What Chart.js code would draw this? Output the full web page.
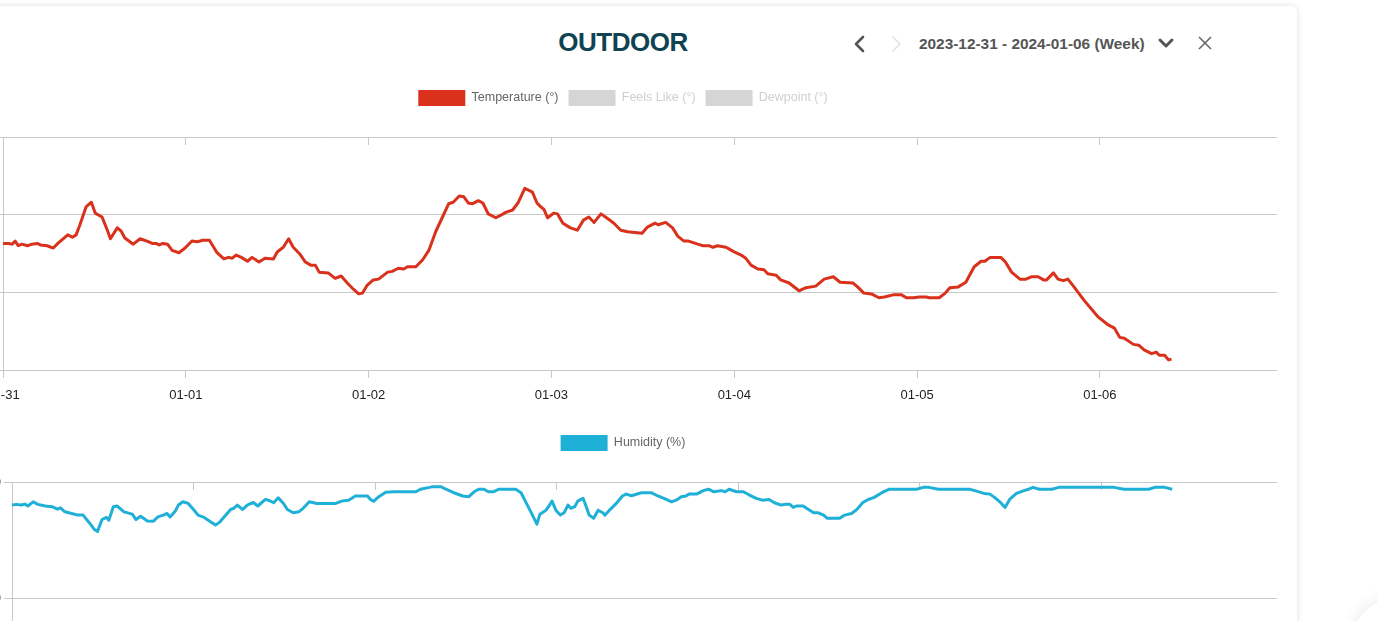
<!DOCTYPE html>
<html>
<head>
<meta charset="utf-8">
<script src="https://cdn.jsdelivr.net/npm/chart.js@4.4.1/dist/chart.umd.min.js"></script>
<style>
  html, body { margin:0; padding:0; width:1377px; height:621px; overflow:hidden; background:#fff;
    font-family:"Liberation Sans", Arial, Helvetica, sans-serif; }
  #card { position:absolute; left:-60px; top:6px; width:1357px; height:800px; background:#fff;
    border-radius:6px; box-shadow:0 0 6px rgba(0,0,0,0.13); }
  #title { position:absolute; left:523px; width:200px; top:27px; text-align:center; font-weight:bold;
    font-size:26px; letter-spacing:-0.5px; color:#0f4352; }
  #range { position:absolute; left:919px; top:35px; font-weight:bold; font-size:15.4px; color:#555; white-space:nowrap; }
  #icons { position:absolute; left:0; top:0; }
  canvas { position:absolute; }
  #blob { position:absolute; left:1352px; top:598px; width:90px; height:90px; border-radius:50%;
    box-shadow:0 0 16px rgba(0,0,0,0.10); background:#fff; }
</style>
</head>
<body>
<div id="card"></div>
<div id="blob"></div>
<div id="title">OUTDOOR</div>
<div id="range">2023-12-31 - 2024-01-06 (Week)</div>
<svg id="icons" width="1377" height="80">
  <polyline points="863,37 856,44 863,51" fill="none" stroke="#555" stroke-width="2.6" stroke-linecap="round" stroke-linejoin="round"/>
  <polyline points="893,37 900,44 893,51" fill="none" stroke="#e2e2e2" stroke-width="1.6" stroke-linecap="round" stroke-linejoin="round"/>
  <polyline points="1160,40 1166,46 1172,40" fill="none" stroke="#555" stroke-width="3" stroke-linecap="round" stroke-linejoin="round"/>
  <line x1="1199" y1="37" x2="1211" y2="49" stroke="#666" stroke-width="1.6"/>
  <line x1="1211" y1="37" x2="1199" y2="49" stroke="#666" stroke-width="1.6"/>
</svg>
<canvas id="tempChart" width="1308" height="330" style="left:-31px;top:80px;width:1308px;height:330px"></canvas>
<canvas id="humChart" width="1308" height="330" style="left:-31px;top:425px;width:1308px;height:330px"></canvas>
<script>
// hours since 2023-12-31 00:00
var dayLabels = ['12-31','01-01','01-02','01-03','01-04','01-05','01-06'];

var tempHours = [0,0.7,1.2,1.6,2.0,2.5,3.2,3.8,4.5,4.9,
  5.8,6.6,7.2,8.5,9.1,9.6,10.1,10.9,11.6,12.1,
  13.0,13.7,14.1,15.0,15.5,16.0,17.1,18.0,18.9,19.6,
  20.1,20.5,21.0,21.6,22.2,23.1,23.9,24.8,25.5,26.2,
  27.1,28.1,29.0,29.6,30.1,30.6,31.3,32.1,32.7,33.6,
  34.4,35.5,36.0,36.8,37.5,38.1,39.0,39.7,40.4,41.0,
  41.5,42.7,43.6,44.4,45.2,46.0,46.7,47.2,47.8,48.6,
  49.3,50.5,51.1,51.9,52.6,53.1,54.2,55.1,55.9,56.8,
  57.7,58.5,59.1,59.9,60.5,61.1,61.6,62.4,63.0,63.7,
  64.7,65.3,66.0,66.9,67.6,68.5,69.5,70.1,70.6,71.0,
  71.5,72.3,72.8,73.5,74.5,75.4,76.2,76.9,77.6,78.5,
  79.5,80.2,81.1,82.0,83.9,84.6,85.6,86.0,87.0,87.9,
  88.6,89.4,90.0,91.2,91.9,92.7,93.2,93.8,94.9,95.3,
  96.0,96.9,97.5,98.2,99.1,99.9,100.4,101.5,102.1,103.2,
  104.5,105.4,106.7,107.8,109.0,109.9,111.6,112.3,113.0,114.0,
  115.0,115.7,117.0,117.9,118.6,119.5,120.3,121.2,121.6,122.9,
  123.7,124.3,125.4,126.4,127.5,128.4,128.9,129.6,131.0,131.6,
  132.4,133.5,134.3,135.0,135.9,136.6,137.0,137.9,138.5,139.2,
  139.8,140.6,141.9,143.8,145.1,145.9,146.6,147.2,148.4,149.1,
  149.8,150.8,151.4,151.8,152.5,153.0,153.4];
var tempValues = [36.3,36.3,36.2,36.6,36.0,36.2,36.0,36.2,36.3,36.1,
  36.0,35.7,36.3,37.4,37.1,37.4,38.7,41.0,41.6,40.2,
  39.7,38.0,36.9,38.3,37.9,37.0,36.2,36.9,36.6,36.3,
  36.3,36.1,36.3,36.2,35.4,35.1,35.7,36.6,36.5,36.7,
  36.7,35.1,34.3,34.5,34.4,34.8,34.5,34.0,34.5,33.9,
  34.4,34.3,35.2,35.8,36.9,35.8,34.9,33.9,33.5,33.5,
  32.6,32.5,31.8,32.1,31.2,30.4,29.8,29.9,30.9,31.6,
  31.7,32.6,32.7,33.1,33.0,33.3,33.3,34.2,35.4,37.8,
  39.7,41.4,41.6,42.4,42.3,41.5,41.4,41.8,41.5,40.1,
  39.6,39.9,40.3,40.6,41.5,43.4,42.9,41.5,41.0,40.7,
  39.6,40.2,40.1,38.9,38.3,38.0,39.3,39.7,39.0,40.1,
  39.4,38.9,38.0,37.8,37.6,38.4,38.9,38.7,39.0,38.3,
  37.2,36.6,36.6,36.2,36.0,36.0,35.8,36.0,35.8,35.6,
  35.2,34.8,34.4,33.5,33.0,32.9,32.4,32.2,31.6,31.2,
  30.2,30.6,30.8,31.7,32.0,31.3,31.2,30.6,29.9,29.8,
  29.3,29.4,29.7,29.7,29.3,29.3,29.4,29.4,29.3,29.3,
  29.9,30.6,30.7,31.3,33.3,34.0,34.0,34.5,34.5,33.9,
  32.6,31.7,31.7,32.0,32.0,31.6,31.6,32.5,31.7,31.5,
  31.7,30.7,29.0,26.8,25.8,25.4,24.2,24.1,23.3,23.2,
  22.6,22.1,22.3,21.9,21.9,21.3,21.4];

var humHours = [0,0.6,1.2,1.7,2.1,2.8,3.4,4.4,5.3,6.0,
  6.4,7.0,7.9,8.7,9.4,10.3,10.9,11.3,11.9,12.5,
  12.8,13.4,13.9,14.8,15.9,16.4,17.0,17.9,18.7,19.3,
  20.0,20.5,20.9,21.6,22.0,22.6,23.3,24.0,24.6,25.4,
  26.1,26.9,27.5,28.9,29.3,29.8,30.5,31.1,31.9,32.5,
  33.5,33.9,34.6,35.2,35.9,36.4,37.2,37.9,38.5,39.3,
  40.3,41.2,42.8,43.7,44.5,45.4,47.0,47.4,47.8,48.5,
  49.4,50.5,53.4,54.0,55.2,55.6,56.7,57.3,58.4,59.6,
  60.4,61.1,61.7,62.4,63.0,63.6,64.4,66.6,67.3,67.8,
  68.6,69.4,69.8,70.6,71.0,71.4,71.9,72.5,73.0,73.5,
  73.9,74.4,74.8,75.5,76.0,76.3,76.9,77.5,78.1,78.4,
  78.9,79.9,80.7,81.2,81.9,83.2,84.5,85.4,86.5,87.2,
  87.8,88.5,89.1,89.5,90.5,91.4,92.1,92.8,93.8,94.3,
  94.8,95.8,96.7,97.5,98.4,99.2,100.1,100.8,101.7,102.4,
  102.8,103.3,103.7,104.6,105.3,106.0,106.6,107.3,107.8,109.4,
  110.1,111.0,111.7,112.5,113.2,114.0,115.0,116.0,119.6,120.5,
  121.2,122.5,126.6,127.3,128.5,129.3,129.9,130.6,131.3,131.9,
  132.8,133.8,134.4,135.0,135.8,137.5,138.4,145.7,147.0,150.3,
  151.1,152.4,153.4];
var humValues = [90.1,90.4,90.1,90.5,89.7,91.5,90.4,89.7,89.4,88.4,
  88.9,87.2,86.5,85.8,85.8,82.2,79.6,78.7,83.9,84.8,
  83.6,89.4,89.7,87.2,86.2,83.9,85.3,83.3,83.2,85.0,
  85.8,86.5,85.0,87.6,90.1,91.5,90.8,88.2,85.8,84.8,
  83.3,81.5,82.9,88.2,88.7,90.1,88.2,90.1,91.2,89.7,
  92.5,92.2,91.1,93.2,90.8,88.2,86.8,87.2,88.7,91.5,
  90.8,90.8,90.8,91.9,92.2,94.0,94.0,92.5,91.7,93.7,
  95.6,95.8,95.8,96.9,97.7,98.0,98.0,97.0,95.4,94.0,
  93.7,95.8,96.9,96.9,95.8,95.8,96.9,96.9,95.4,92.2,
  87.2,81.9,86.2,87.9,89.7,91.8,87.9,85.8,86.8,90.1,
  88.7,89.4,91.8,93.0,88.7,85.8,84.4,87.9,86.8,85.8,
  87.6,90.8,94.0,94.8,94.1,95.4,95.4,94.0,92.5,91.5,
  92.2,93.7,94.0,94.8,94.8,96.3,96.9,95.8,96.3,95.8,
  96.9,95.8,95.8,94.4,93.0,92.2,92.5,91.1,90.1,90.5,
  90.5,89.1,89.7,89.7,88.2,86.8,86.8,85.8,84.4,84.4,
  85.8,86.5,88.2,91.2,92.5,93.4,95.4,96.9,96.9,97.7,
  97.7,96.9,96.9,96.3,95.1,94.8,93.4,91.5,89.1,92.5,
  95.1,96.3,96.9,97.7,96.9,96.9,97.7,97.7,96.9,96.9,
  97.7,97.7,96.9];

var tempColor = '#d9311b';
var humColor = '#1eb0d6';

Chart.defaults.font.family = '"Liberation Sans", Arial, Helvetica, sans-serif';
Chart.defaults.animation = false;

function pairs(xs, ys) {
  return xs.map(function (x, i) { return { x: x, y: ys[i] }; });
}

// pushes the plot area down below the legend
var legendSpacer = {
  id: 'legendSpacer',
  beforeInit: function (chart, args, opts) {
    var fit = chart.legend.fit;
    chart.legend.fit = function () {
      fit.bind(chart.legend)();
      this.height += opts.extra;
    };
  }
};

function legendLabels(chart) {
  return chart.data.datasets.map(function (ds, i) {
    var off = !chart.isDatasetVisible(i);
    return {
      text: ds.label,
      fillStyle: off ? '#d5d5d5' : ds.borderColor,
      strokeStyle: 'rgba(0,0,0,0)',
      lineWidth: 0,
      hidden: false,
      fontColor: off ? '#cfcfcf' : '#666',
      datasetIndex: i
    };
  });
}

function xAxis() {
  return {
    type: 'linear',
    min: 0,
    max: 167.25,
    grid: { color: '#c8c8c8', tickColor: '#c8c8c8', tickLength: 8 },
    border: { color: '#c8c8c8', dash: [8, 3000] },
    ticks: {
      stepSize: 24,
      includeBounds: false,
      autoSkip: false,
      maxRotation: 0,
      padding: 10,
      color: '#222',
      font: { size: 13 },
      callback: function (v) { return dayLabels[Math.round(v / 24)]; }
    },
    afterFit: function (s) { s.height = 40; }
  };
}

function yAxis(min, max, step, w) {
  return {
    min: min,
    max: max,
    grid: { color: '#c8c8c8', tickColor: '#c8c8c8', tickLength: 8 },
    border: { color: '#c8c8c8' },
    ticks: { stepSize: step, color: '#222', font: { size: 13 } },
    afterFit: function (s) { s.width = w; }
  };
}

function legendOpts() {
  return {
    position: 'top',
    labels: {
      boxWidth: 47,
      boxHeight: 16,
      padding: 10,
      font: { size: 12.5 },
      generateLabels: legendLabels
    }
  };
}

new Chart(document.getElementById('tempChart'), {
  type: 'line',
  data: {
    datasets: [
      { label: 'Temperature (°)', data: pairs(tempHours, tempValues), borderColor: tempColor,
        backgroundColor: tempColor, borderWidth: 3, pointRadius: 0, tension: 0, borderJoinStyle: 'round' },
      { label: 'Feels Like (°)', data: [], hidden: true, borderColor: '#999', backgroundColor: '#999' },
      { label: 'Dewpoint (°)', data: [], hidden: true, borderColor: '#888', backgroundColor: '#888' }
    ]
  },
  options: {
    responsive: false,
    devicePixelRatio: 1,
    layout: { padding: 0 },
    plugins: { legend: legendOpts(), legendSpacer: { extra: 21 }, tooltip: { enabled: false } },
    scales: { x: xAxis(), y: yAxis(20, 50, 10, 34) }
  },
  plugins: [legendSpacer]
});

new Chart(document.getElementById('humChart'), {
  type: 'line',
  data: {
    datasets: [
      { label: 'Humidity (%)', data: pairs(humHours, humValues), borderColor: humColor,
        backgroundColor: humColor, borderWidth: 3, pointRadius: 0, tension: 0, borderJoinStyle: 'round' }
    ]
  },
  options: {
    responsive: false,
    devicePixelRatio: 1,
    layout: { padding: 0 },
    plugins: { legend: legendOpts(), legendSpacer: { extra: 21 }, tooltip: { enabled: false } },
    scales: { x: xAxis(), y: yAxis(0, 100, 50, 43) }
  },
  plugins: [legendSpacer]
});
</script>
</body>
</html>
